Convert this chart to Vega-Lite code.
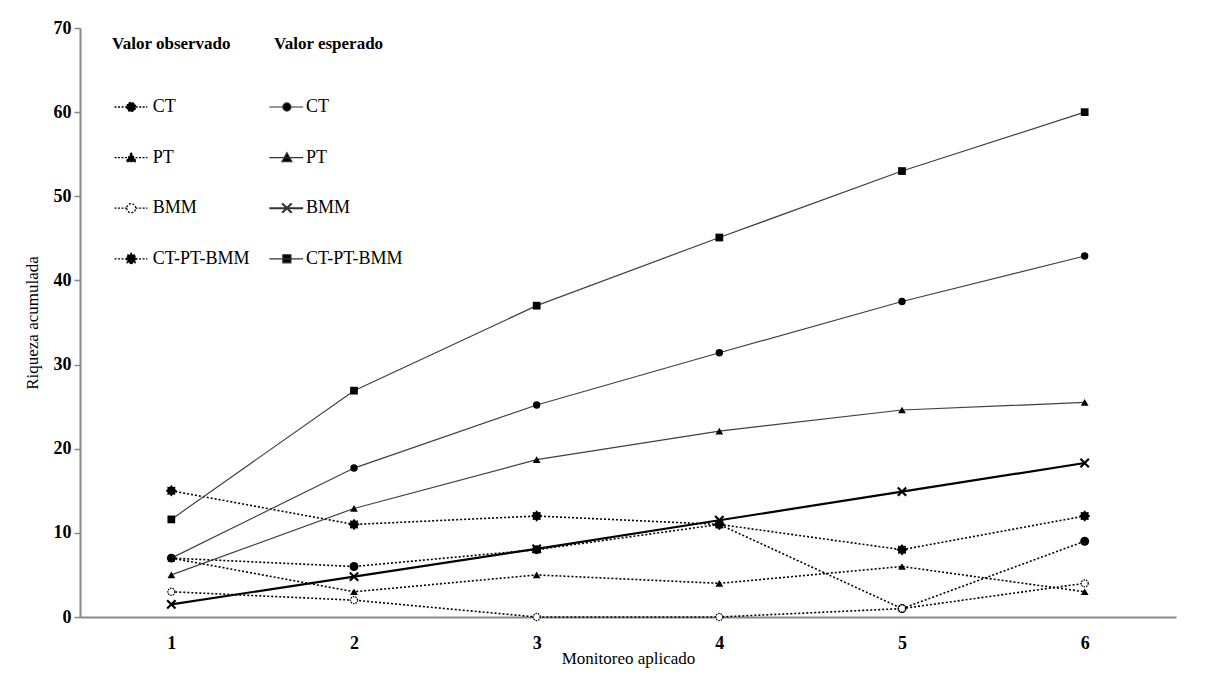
{
  "$schema": "https://vega.github.io/schema/vega-lite/v6.json",
  "width": 1096,
  "height": 589,
  "autosize": {"type": "none"},
  "padding": {"left": 80, "top": 28, "right": 29, "bottom": 61},
  "background": "white",
  "config": {
    "view": {"stroke": null},
    "font": "Liberation Serif",
    "axis": {"grid": false},
    "axisX": {
      "domainColor": "#888888", "domainWidth": 2, "ticks": false, "tickSize": 0,
      "labelFont": "Liberation Serif", "labelFontSize": 18, "labelFontWeight": "bold", "labelColor": "black", "labelPadding": 17,
      "titleFont": "Liberation Serif", "titleFontSize": 17, "titleFontWeight": "normal", "titleColor": "black", "titlePadding": -2
    },
    "axisY": {
      "domainColor": "#888888", "domainWidth": 2, "tickColor": "#888888", "tickSize": 6, "tickWidth": 1.5,
      "labelFont": "Liberation Serif", "labelFontSize": 18, "labelFontWeight": "bold", "labelColor": "black", "labelPadding": 3,
      "titleFont": "Liberation Serif", "titleFontSize": 17, "titleFontWeight": "normal", "titleColor": "black", "titlePadding": 12
    }
  },
  "data": {
    "values": [
      {"monitoreo": 1, "riqueza": 7, "serie": "CT", "grupo": "obs CT"},
      {"monitoreo": 2, "riqueza": 6, "serie": "CT", "grupo": "obs CT"},
      {"monitoreo": 3, "riqueza": 8, "serie": "CT", "grupo": "obs CT"},
      {"monitoreo": 4, "riqueza": 11, "serie": "CT", "grupo": "obs CT"},
      {"monitoreo": 5, "riqueza": 1, "serie": "CT", "grupo": "obs CT"},
      {"monitoreo": 6, "riqueza": 9, "serie": "CT", "grupo": "obs CT"},
      {"monitoreo": 1, "riqueza": 7, "serie": "PT", "grupo": "obs PT"},
      {"monitoreo": 2, "riqueza": 3, "serie": "PT", "grupo": "obs PT"},
      {"monitoreo": 3, "riqueza": 5, "serie": "PT", "grupo": "obs PT"},
      {"monitoreo": 4, "riqueza": 4, "serie": "PT", "grupo": "obs PT"},
      {"monitoreo": 5, "riqueza": 6, "serie": "PT", "grupo": "obs PT"},
      {"monitoreo": 6, "riqueza": 3, "serie": "PT", "grupo": "obs PT"},
      {"monitoreo": 1, "riqueza": 3, "serie": "BMM", "grupo": "obs BMM"},
      {"monitoreo": 2, "riqueza": 2, "serie": "BMM", "grupo": "obs BMM"},
      {"monitoreo": 3, "riqueza": 0, "serie": "BMM", "grupo": "obs BMM"},
      {"monitoreo": 4, "riqueza": 0, "serie": "BMM", "grupo": "obs BMM"},
      {"monitoreo": 5, "riqueza": 1, "serie": "BMM", "grupo": "obs BMM"},
      {"monitoreo": 6, "riqueza": 4, "serie": "BMM", "grupo": "obs BMM"},
      {"monitoreo": 1, "riqueza": 15, "serie": "CT-PT-BMM", "grupo": "obs CT-PT-BMM"},
      {"monitoreo": 2, "riqueza": 11, "serie": "CT-PT-BMM", "grupo": "obs CT-PT-BMM"},
      {"monitoreo": 3, "riqueza": 12, "serie": "CT-PT-BMM", "grupo": "obs CT-PT-BMM"},
      {"monitoreo": 4, "riqueza": 11, "serie": "CT-PT-BMM", "grupo": "obs CT-PT-BMM"},
      {"monitoreo": 5, "riqueza": 8, "serie": "CT-PT-BMM", "grupo": "obs CT-PT-BMM"},
      {"monitoreo": 6, "riqueza": 12, "serie": "CT-PT-BMM", "grupo": "obs CT-PT-BMM"},
      {"monitoreo": 1, "riqueza": 7.0, "serie": "CT", "grupo": "esp CT"},
      {"monitoreo": 2, "riqueza": 17.7, "serie": "CT", "grupo": "esp CT"},
      {"monitoreo": 3, "riqueza": 25.2, "serie": "CT", "grupo": "esp CT"},
      {"monitoreo": 4, "riqueza": 31.4, "serie": "CT", "grupo": "esp CT"},
      {"monitoreo": 5, "riqueza": 37.5, "serie": "CT", "grupo": "esp CT"},
      {"monitoreo": 6, "riqueza": 42.9, "serie": "CT", "grupo": "esp CT"},
      {"monitoreo": 1, "riqueza": 5.0, "serie": "PT", "grupo": "esp PT"},
      {"monitoreo": 2, "riqueza": 12.9, "serie": "PT", "grupo": "esp PT"},
      {"monitoreo": 3, "riqueza": 18.7, "serie": "PT", "grupo": "esp PT"},
      {"monitoreo": 4, "riqueza": 22.1, "serie": "PT", "grupo": "esp PT"},
      {"monitoreo": 5, "riqueza": 24.6, "serie": "PT", "grupo": "esp PT"},
      {"monitoreo": 6, "riqueza": 25.5, "serie": "PT", "grupo": "esp PT"},
      {"monitoreo": 1, "riqueza": 1.5, "serie": "BMM", "grupo": "esp BMM"},
      {"monitoreo": 2, "riqueza": 4.8, "serie": "BMM", "grupo": "esp BMM"},
      {"monitoreo": 3, "riqueza": 8.1, "serie": "BMM", "grupo": "esp BMM"},
      {"monitoreo": 4, "riqueza": 11.5, "serie": "BMM", "grupo": "esp BMM"},
      {"monitoreo": 5, "riqueza": 14.9, "serie": "BMM", "grupo": "esp BMM"},
      {"monitoreo": 6, "riqueza": 18.3, "serie": "BMM", "grupo": "esp BMM"},
      {"monitoreo": 1, "riqueza": 11.6, "serie": "CT-PT-BMM", "grupo": "esp CT-PT-BMM"},
      {"monitoreo": 2, "riqueza": 26.9, "serie": "CT-PT-BMM", "grupo": "esp CT-PT-BMM"},
      {"monitoreo": 3, "riqueza": 37.0, "serie": "CT-PT-BMM", "grupo": "esp CT-PT-BMM"},
      {"monitoreo": 4, "riqueza": 45.1, "serie": "CT-PT-BMM", "grupo": "esp CT-PT-BMM"},
      {"monitoreo": 5, "riqueza": 53.0, "serie": "CT-PT-BMM", "grupo": "esp CT-PT-BMM"},
      {"monitoreo": 6, "riqueza": 60.0, "serie": "CT-PT-BMM", "grupo": "esp CT-PT-BMM"}
    ]
  },
  "encoding": {
    "x": {"field": "monitoreo", "type": "quantitative", "title": "Monitoreo aplicado",
      "scale": {"domain": [0.5, 6.5], "nice": false, "zero": false},
      "axis": {"values": [1, 2, 3, 4, 5, 6], "format": "d"}},
    "y": {"field": "riqueza", "type": "quantitative", "title": "Riqueza acumulada",
      "scale": {"domain": [0, 70], "nice": false},
      "axis": {"values": [0, 10, 20, 30, 40, 50, 60, 70], "format": "d"}}
  },
  "layer": [
    {
      "transform": [{"filter": "indexof(datum.grupo, 'obs') === 0"}],
      "mark": {"type": "line", "color": "black", "strokeWidth": 1.6, "strokeDash": [2, 2]},
      "encoding": {"detail": {"field": "grupo"}}
    },
    {
      "transform": [{"filter": "datum.grupo === 'esp CT' || datum.grupo === 'esp PT' || datum.grupo === 'esp CT-PT-BMM'"}],
      "mark": {"type": "line", "color": "#404040", "strokeWidth": 1.2},
      "encoding": {"detail": {"field": "grupo"}}
    },
    {
      "transform": [{"filter": "datum.grupo === 'esp BMM'"}],
      "mark": {"type": "line", "color": "black", "strokeWidth": 2.2},
      "encoding": {"detail": {"field": "grupo"}}
    },
    {
      "transform": [{"filter": "datum.grupo === 'obs CT'"}],
      "mark": {"type": "point", "shape": "circle", "filled": true, "color": "black", "opacity": 1, "size": 80}
    },
    {
      "transform": [{"filter": "datum.grupo === 'esp CT'"}],
      "mark": {"type": "point", "shape": "circle", "filled": true, "color": "black", "opacity": 1, "size": 55}
    },
    {
      "transform": [{"filter": "datum.grupo === 'obs PT' || datum.grupo === 'esp PT'"}],
      "mark": {"type": "point", "shape": "triangle-up", "filled": true, "color": "black", "opacity": 1, "size": 60}
    },
    {
      "transform": [{"filter": "datum.grupo === 'obs BMM'"}],
      "mark": {"type": "point", "shape": "circle", "filled": false, "fill": "white", "stroke": "black", "strokeWidth": 1.3, "strokeDash": [1.5, 1], "opacity": 1, "size": 50}
    },
    {
      "transform": [{"filter": "datum.grupo === 'obs CT-PT-BMM'"}],
      "mark": {"type": "point", "filled": true, "color": "black", "opacity": 1, "size": 130,
        "shape": "M1,0L0.665,0.276L0.707,0.707L0.276,0.665L0,1L-0.276,0.665L-0.707,0.707L-0.665,0.276L-1,0L-0.665,-0.276L-0.707,-0.707L-0.276,-0.665L0,-1L0.276,-0.665L0.707,-0.707L0.665,-0.276Z"}
    },
    {
      "transform": [{"filter": "datum.grupo === 'esp BMM'"}],
      "mark": {"type": "point", "filled": false, "color": "black", "opacity": 1, "size": 70, "strokeWidth": 2.2,
        "shape": "M-1,-1L1,1M-1,1L1,-1"}
    },
    {
      "transform": [{"filter": "datum.grupo === 'esp CT-PT-BMM'"}],
      "mark": {"type": "point", "shape": "square", "filled": true, "color": "black", "opacity": 1, "size": 60}
    },
    {
      "transform": [{"filter": "datum.riqueza < -1"}],
      "mark": {"type": "point", "filled": false, "color": "black", "opacity": 1, "strokeWidth": 1.3, "strokeDash": [2, 1.5]},
      "encoding": {
        "shape": {"field": "serie", "type": "nominal", "title": "Valor observado",
          "scale": {"domain": ["CT", "PT", "BMM", "CT-PT-BMM"],
            "range": [
              "M-3.7,0L-1,0M1,0L3.6,0M-1,0A1,1 0 1,0 1,0A1,1 0 1,0 -1,0Z",
              "M-3.7,0L3.6,0M0,-1.1L1.1,0.9L-1.1,0.9Z",
              "M-3.7,0L-1,0M1,0L3.6,0M-1,0A1,1 0 1,0 1,0A1,1 0 1,0 -1,0Z",
              "M-3.7,0L3.6,0M1.25,0L0.83,0.345L0.884,0.884L0.345,0.83L0,1.25L-0.345,0.83L-0.884,0.884L-0.83,0.345L-1.25,0L-0.83,-0.345L-0.884,-0.884L-0.345,-0.83L0,-1.25L0.345,-0.83L0.884,-0.884L0.83,-0.345Z"
            ]},
          "legend": {"orient": "none", "legendX": 32, "legendY": 8, "direction": "vertical", "symbolSize": 81,
            "symbolOffset": 10.2, "labelOffset": 12.5, "rowPadding": 32.6, "titlePadding": 45, "padding": 0,
            "symbolStrokeWidth": 1.3, "symbolDash": [2, 1.5],
            "titleFont": "Liberation Serif", "titleFontSize": 17, "titleFontWeight": "bold", "titleColor": "black",
            "labelFont": "Liberation Serif", "labelFontSize": 18, "labelColor": "black"}},
        "fill": {"field": "serie", "type": "nominal", "title": "Valor observado",
          "scale": {"domain": ["CT", "PT", "BMM", "CT-PT-BMM"], "range": ["black", "black", "white", "black"]},
          "legend": {"orient": "none", "legendX": 32, "legendY": 8, "direction": "vertical", "symbolSize": 81,
            "symbolOffset": 10.2, "labelOffset": 12.5, "rowPadding": 32.6, "titlePadding": 45, "padding": 0,
            "symbolStrokeWidth": 1.3, "symbolDash": [2, 1.5],
            "titleFont": "Liberation Serif", "titleFontSize": 17, "titleFontWeight": "bold", "titleColor": "black",
            "labelFont": "Liberation Serif", "labelFontSize": 18, "labelColor": "black"}}
      }
    },
    {
      "transform": [{"filter": "datum.riqueza < -1"}],
      "mark": {"type": "point", "filled": false, "color": "#333333", "opacity": 1, "strokeWidth": 1.2},
      "encoding": {
        "shape": {"field": "serie", "type": "nominal", "title": "Valor esperado",
          "scale": {"domain": ["CT", "PT", "BMM", "CT-PT-BMM"],
            "range": [
              "M-3.9,0L-0.9,0M0.9,0L3.6,0M-0.9,0A0.9,0.9 0 1,0 0.9,0A0.9,0.9 0 1,0 -0.9,0Z",
              "M-3.9,0L3.6,0M0,-1.1L1.1,0.9L-1.1,0.9Z",
              "M-3.9,-0.1L3.6,-0.1M-3.9,0.1L3.6,0.1M-1,-1L1,1M-1,1L1,-1M-0.85,-1L1.15,1M-0.85,1L1.15,-1M-1.15,-1L0.85,1M-1.15,1L0.85,-1",
              "M-3.9,0L3.6,0M-0.9,-0.9L0.9,-0.9L0.9,0.9L-0.9,0.9Z"
            ]},
          "legend": {"orient": "none", "legendX": 194, "legendY": 8, "direction": "vertical", "symbolSize": 81,
            "symbolOffset": 3.9, "labelOffset": 10, "rowPadding": 32.6, "titlePadding": 45, "padding": 0,
            "symbolStrokeWidth": 1.2,
            "titleFont": "Liberation Serif", "titleFontSize": 17, "titleFontWeight": "bold", "titleColor": "black",
            "labelFont": "Liberation Serif", "labelFontSize": 18, "labelColor": "black"}},
        "fill": {"field": "serie", "type": "nominal", "title": "Valor esperado",
          "scale": {"domain": ["CT", "PT", "BMM", "CT-PT-BMM"], "range": ["black", "black", "black", "black"]},
          "legend": {"orient": "none", "legendX": 194, "legendY": 8, "direction": "vertical", "symbolSize": 81,
            "symbolOffset": 3.9, "labelOffset": 10, "rowPadding": 32.6, "titlePadding": 45, "padding": 0,
            "symbolStrokeWidth": 1.2,
            "titleFont": "Liberation Serif", "titleFontSize": 17, "titleFontWeight": "bold", "titleColor": "black",
            "labelFont": "Liberation Serif", "labelFontSize": 18, "labelColor": "black"}}
      }
    }
  ],
  "resolve": {
    "scale": {"shape": "independent", "fill": "independent"},
    "legend": {"shape": "independent", "fill": "independent"}
  }
}
